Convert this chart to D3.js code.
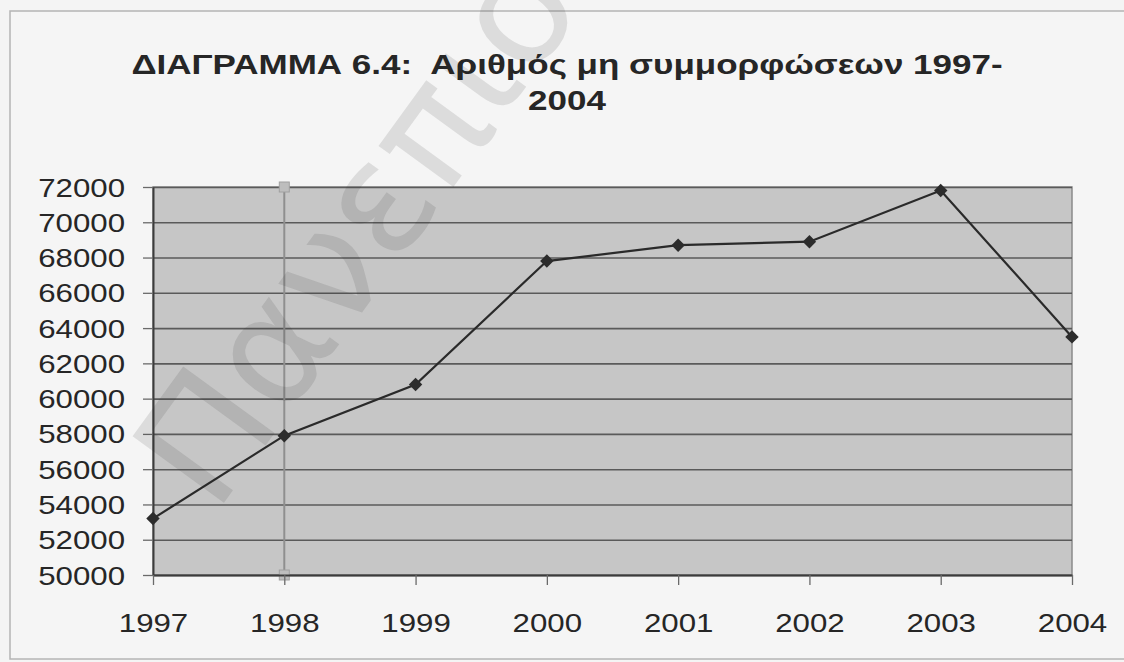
<!DOCTYPE html>
<html>
<head>
<meta charset="utf-8">
<script src="https://cdn.jsdelivr.net/npm/d3@7"></script>
<style>
  body { margin: 0; background: #f4f4f4; }
  text { font-family: "Liberation Sans", Arial, sans-serif; fill: #262626; }
</style>
</head>
<body>
<svg id="chart" width="1124" height="662"></svg>
<script>
// data
const years = ["1997", "1998", "1999", "2000", "2001", "2002", "2003", "2004"];
const values = [53200, 57900, 60800, 67800, 68700, 68900, 71800, 63500];
const yTicks = [50000, 52000, 54000, 56000, 58000, 60000, 62000, 64000, 66000, 68000, 70000, 72000];
const titleLines = ["ΔΙΑΓΡΑΜΜΑ 6.4:  Αριθμός μη συμμορφώσεων 1997-", "2004"];
const selectedYear = "1998";
const watermark = "Πανεπιστ";

const width = 1124, height = 662;
const margin = { top: 187, right: 52, bottom: 87, left: 153 };
const stretch = 1.25; // the scan is a bit wider than it is tall

const x = d3.scalePoint()
  .domain(years)
  .range([margin.left, width - margin.right]);

const y = d3.scaleLinear()
  .domain([d3.min(yTicks), d3.max(yTicks)])
  .range([height - margin.bottom, margin.top]);

const svg = d3.select("#chart");

// outer frame
svg.append("rect")
  .attr("x", 10).attr("y", 11)
  .attr("width", 1130).attr("height", 648)
  .attr("fill", "#f5f5f5")
  .attr("stroke", "#b4b4b4")
  .attr("stroke-width", 1.5);

// plot area
svg.append("rect")
  .attr("x", x.range()[0])
  .attr("y", y.range()[1])
  .attr("width", x.range()[1] - x.range()[0])
  .attr("height", y.range()[0] - y.range()[1])
  .attr("fill", "#c6c6c6")
  .attr("stroke", "#8a8a8a")
  .attr("stroke-width", 1.5);

// gridlines
svg.append("g")
  .attr("transform", `translate(${margin.left},0)`)
  .call(d3.axisLeft(y).tickValues(yTicks).tickSize(-(x.range()[1] - x.range()[0])).tickFormat(""))
  .call(g => g.select(".domain").remove())
  .call(g => g.selectAll("line").attr("stroke", "#5a5a5a").attr("stroke-width", 1.6));

// selected (highlighted) category line
const sel = svg.append("g");
sel.append("line")
  .attr("x1", x(selectedYear)).attr("x2", x(selectedYear))
  .attr("y1", y.range()[1]).attr("y2", y.range()[0])
  .attr("stroke", "#8f8f8f")
  .attr("stroke-width", 2);
sel.selectAll("rect")
  .data(y.range())
  .join("rect")
  .attr("x", x(selectedYear) - 5)
  .attr("y", d => d - 5)
  .attr("width", 10).attr("height", 10)
  .attr("fill", "#bdbdbd")
  .attr("stroke", "#a0a0a0");

// y axis
svg.append("g")
  .attr("transform", `translate(${margin.left},0)`)
  .call(d3.axisLeft(y).tickValues(yTicks).tickSize(10).tickSizeOuter(0).tickFormat(d3.format("d")))
  .call(g => g.select(".domain").attr("stroke", "#3c3c3c").attr("stroke-width", 2))
  .call(g => g.selectAll("line").attr("stroke", "#6a6a6a").attr("stroke-width", 1.3))
  .call(g => g.selectAll("text")
    .attr("x", -28 / stretch)
    .attr("dy", "0.36em")
    .attr("transform", `scale(${stretch},1)`)
    .style("font-size", "25px")
    .style("font-family", "'Liberation Sans', Arial, sans-serif")
    .attr("fill", "#262626"));

// x axis
svg.append("g")
  .attr("transform", `translate(0,${y.range()[0]})`)
  .call(d3.axisBottom(x).tickSize(10).tickSizeOuter(0))
  .call(g => g.select(".domain").attr("stroke", "#3c3c3c").attr("stroke-width", 2))
  .call(g => g.selectAll("line").attr("stroke", "#6a6a6a").attr("stroke-width", 1.3))
  .call(g => g.selectAll("text")
    .attr("y", 57)
    .attr("dy", 0)
    .attr("transform", `scale(${stretch},1)`)
    .style("font-size", "25px")
    .style("font-family", "'Liberation Sans', Arial, sans-serif")
    .attr("fill", "#262626"));

// series
const points = years.map((d, i) => ({ year: d, value: values[i] }));

svg.append("path")
  .datum(points)
  .attr("fill", "none")
  .attr("stroke", "#2a2a2a")
  .attr("stroke-width", 2.2)
  .attr("d", d3.line().x(d => x(d.year)).y(d => y(d.value)));

svg.append("g")
  .selectAll("path")
  .data(points)
  .join("path")
  .attr("d", d3.symbol(d3.symbolSquare, 90))
  .attr("transform", d => `translate(${x(d.year)},${y(d.value)}) rotate(45)`)
  .attr("fill", "#2c2c2c");

// title
svg.append("g")
  .selectAll("text")
  .data(titleLines)
  .join("text")
  .attr("transform", (d, i) => `translate(567,${74 + i * 36}) scale(${stretch},1)`)
  .attr("text-anchor", "middle")
  .style("font-size", "28px")
  .style("font-weight", "bold")
  .style("white-space", "pre")
  .attr("fill", "#2a2a2a")
  .text(d => d);

// watermark of the scanned page
svg.append("text")
  .attr("transform", "translate(215,515) rotate(-54)")
  .style("font-size", "155px")
  .style("font-family", "'DejaVu Sans', sans-serif")
  .attr("fill", "#000")
  .attr("fill-opacity", 0.12)
  .text(watermark);
</script>
</body>
</html>
